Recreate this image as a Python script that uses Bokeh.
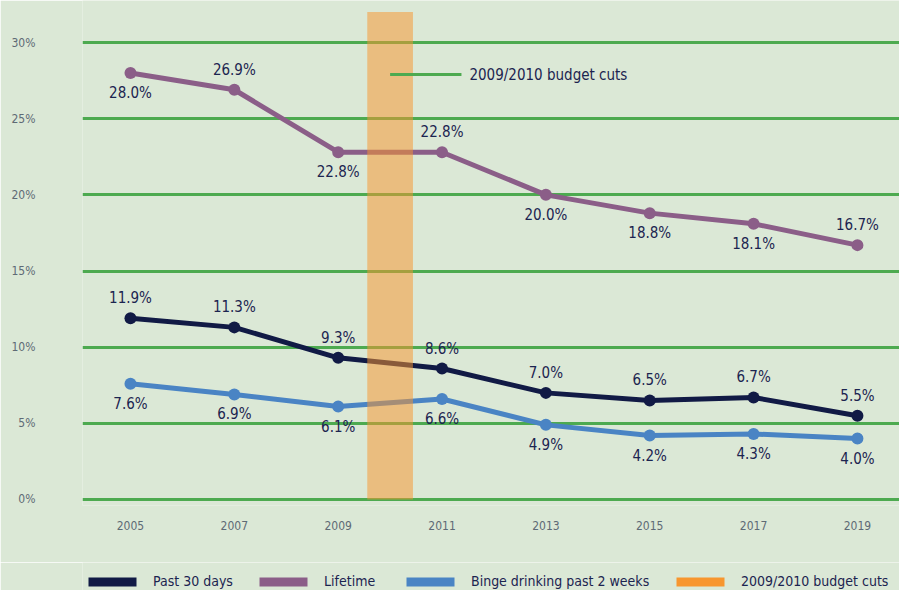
from bokeh.plotting import figure
from bokeh.layouts import column
from bokeh.models import ColumnDataSource, FixedTicker, Legend, LegendItem, Range1d
from bokeh.core.properties import value
from bokeh.embed import file_html
from bokeh.resources import INLINE

# ---- data ----
years = [2005, 2007, 2009, 2011, 2013, 2015, 2017, 2019]
past30 = [11.9, 11.3, 9.3, 8.6, 7.0, 6.5, 6.7, 5.5]
lifetime = [28.0, 26.9, 22.8, 22.8, 20.0, 18.8, 18.1, 16.7]
binge = [7.6, 6.9, 6.1, 6.6, 4.9, 4.2, 4.3, 4.0]
series_names = ["Past 30 days", "Lifetime", "Binge drinking past 2 weeks"]
band_name = "2009/2010 budget cuts"
band_year = 2010
band_top = 32
y_ticks = [0, 5, 10, 15, 20, 25, 30]
y_tick_labels = ["0%", "5%", "10%", "15%", "20%", "25%", "30%"]
x_tick_labels = ["2005", "2007", "2009", "2011", "2013", "2015", "2017", "2019"]

# ---- style ----
FONT = "DejaVu Sans Condensed"
BG = "#DBE8D6"
GRID = "#4DAA50"
NAVY = "#111A45"
PURPLE = "#8B5E88"
BLUE = "#4A84C4"
ORANGE = "#F7962F"
LABEL = "#1B2450"
TICK = "#5E6A75"
lifetime_pos = ["below", "above", "below", "above", "below", "below", "below", "above"]

p = figure(width=899, height=562, output_backend="svg", toolbar_location=None,
           title=None,
           x_range=Range1d(2004.076, 2019.81), y_range=Range1d(-0.394, 32.76),
           min_border_left=82, min_border_right=0, min_border_top=0, min_border_bottom=57,
           background_fill_color=BG, border_fill_color=BG,
           outline_line_color=None)

p.xgrid.grid_line_color = None
p.ygrid.ticker = FixedTicker(ticks=y_ticks)
p.ygrid.grid_line_color = GRID
p.ygrid.grid_line_width = 3

for ax in (p.xaxis[0], p.yaxis[0]):
    ax.axis_line_color = None
    ax.major_tick_line_color = None
    ax.minor_tick_line_color = None
    ax.major_tick_out = 0
    ax.major_tick_in = 0
    ax.major_label_text_font = FONT
    ax.major_label_text_font_size = "12px"
    ax.major_label_text_color = TICK

p.xaxis.ticker = FixedTicker(ticks=years)
p.xaxis.major_label_overrides = {y: l for y, l in zip(years, x_tick_labels)}
p.xaxis.major_label_standoff = 15
p.yaxis.ticker = FixedTicker(ticks=y_ticks)
p.yaxis.major_label_overrides = {t: l for t, l in zip(y_ticks, y_tick_labels)}
p.yaxis.major_label_standoff = 47

series = [(past30, NAVY, ["above"] * 8),
          (lifetime, PURPLE, lifetime_pos),
          (binge, BLUE, ["below"] * 8)]

for vals, col, _ in series:
    p.line(years, vals, line_color=col, line_width=5)

# budget cut band
p.vbar(x=[band_year], width=0.88, top=[band_top], bottom=[0],
       fill_color=ORANGE, fill_alpha=0.52, line_color=None)

for vals, col, pos in series:
    p.scatter(years, vals, size=12, fill_color=col, line_color=None)
    src = ColumnDataSource(dict(
        x=years, y=vals, t=["%.1f%%" % v for v in vals],
        off=[-20 if q == "above" else 20 for q in pos]))
    p.text(x="x", y="y", text="t", y_offset="off", source=src,
           text_align="center", text_baseline="middle",
           text_font=value(FONT), text_font_size="15px", text_color=LABEL)

# annotation
ann_y = 27.9
p.segment(x0=[band_year], x1=[band_year + 1.374], y0=[ann_y], y1=[ann_y],
          line_color=GRID, line_width=3)
p.text(x=[band_year + 1.528], y=[ann_y], text=[band_name],
       text_align="left", text_baseline="middle",
       text_font=value(FONT), text_font_size="15px", text_color=LABEL)

# ---- legend strip below the chart ----
pl = figure(width=899, height=28, output_backend="svg", toolbar_location=None,
            title=None, x_axis_type=None, y_axis_type=None,
            x_range=Range1d(0, 1), y_range=Range1d(0, 1),
            min_border=0, background_fill_color=BG,
            border_fill_color=BG, outline_line_color=None)
pl.xgrid.grid_line_color = None
pl.ygrid.grid_line_color = None

# legend swatches: one off-screen dummy square each, so the legend can draw them
legend_x = [0, 171, 318, 588]
for name, col, lx in zip(series_names + [band_name], [NAVY, PURPLE, BLUE, ORANGE], legend_x):
    r = pl.quad(left=[-3], right=[-2], top=[-2], bottom=[-3], fill_color=col, line_color=None)
    lg = Legend(items=[LegendItem(label=name, renderers=[r])],
                orientation="horizontal", location=(lx, 1),
                glyph_width=60, glyph_height=11, label_standoff=11,
                padding=0, margin=0, border_line_color=None, background_fill_alpha=0,
                label_text_font=FONT, label_text_font_size="14px",
                label_text_color=LABEL)
    pl.add_layout(lg)

open("out.html", "w").write(file_html(column(p, pl, spacing=0), INLINE))
